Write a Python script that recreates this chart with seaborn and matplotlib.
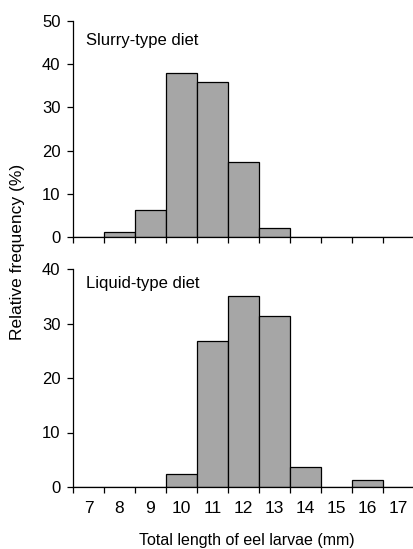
import numpy as np
import pandas as pd
import matplotlib
matplotlib.use("Agg")
import matplotlib.pyplot as plt
import seaborn as sns

sns.set_theme(style="ticks")
plt.rcParams['font.family'] = ['Liberation Sans', 'DejaVu Sans']
plt.rcParams['text.color'] = 'black'
plt.rcParams['xtick.color'] = 'black'
plt.rcParams['ytick.color'] = 'black'

# data: bin centres (mm) and relative frequency (%)
lengths = [7, 8, 9, 10, 11, 12, 13, 14, 15, 16, 17]
slurry_freq = [0, 1.1, 6.2, 38.0, 35.8, 17.4, 2.0, 0, 0, 0, 0]
liquid_freq = [0, 0, 0, 2.3, 26.8, 35.0, 31.4, 3.6, 0, 1.2, 0]
panel_labels = ["Slurry-type diet", "Liquid-type diet"]
y_max = [50, 40]

W, H = 414, 549
fig = plt.figure(figsize=(W / 100, H / 100), dpi=100)
ax1 = fig.add_axes([73 / W, 1 - 237 / H, 341 / W, 216 / H])
ax2 = fig.add_axes([73 / W, 1 - 487 / H, 341 / W, 218 / H])

edges = np.arange(6.5, 17.6, 1.0)
for ax, freq, lab, ym in zip([ax1, ax2], [slurry_freq, liquid_freq], panel_labels, y_max):
    df = pd.DataFrame({"length": lengths, "freq": freq})
    sns.histplot(data=df, x="length", weights="freq", discrete=True, ax=ax,
                 color="#a6a6a6", edgecolor="black", linewidth=0.9, alpha=1)
    ax.set_xlim(6.5, 6.5 + 341 / 31.6)
    ax.set_ylim(0, ym)
    ax.set_yticks(np.arange(0, ym + 1, 10))
    ax.set_xticks(edges)
    ax.set_xticklabels([])
    ax.set_xticks(lengths, minor=True)
    ax.tick_params(axis="x", which="major", length=4, width=0.9, color="black", direction="out")
    ax.tick_params(axis="x", which="minor", length=0, pad=10, labelsize=12.5)
    ax.tick_params(axis="y", length=4, width=0.9, color="black", pad=5, labelsize=12)
    for s in ["top", "right"]:
        ax.spines[s].set_visible(False)
    for s in ["left", "bottom"]:
        ax.spines[s].set_color("black")
        ax.spines[s].set_linewidth(0.9)
    ax.set_xlabel("")
    ax.set_ylabel("")
    ax.set_facecolor("white")

ax1.set_xticklabels([], minor=True)
ax2.set_xticklabels([str(v) for v in lengths], minor=True)

ax1.text(6.91, 45.6, panel_labels[0], fontsize=12, va="center", ha="left")
ax2.text(6.91, 37.4, panel_labels[1], fontsize=12, va="center", ha="left")

fig.text(18 / W, 1 - 252 / H, "Relative frequency (%)", rotation=90,
         fontsize=12.5, ha="center", va="center")
fig.text(247 / W, 1 - 540 / H, "Total length of eel larvae (mm)",
         fontsize=11.5, ha="center", va="center")

fig.savefig("out.png", dpi=100, facecolor="white")
